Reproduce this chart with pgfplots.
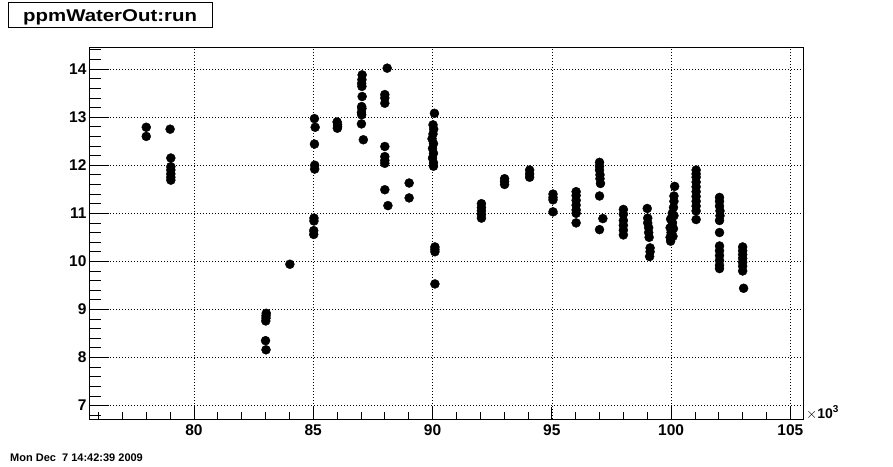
\documentclass[border=0pt]{standalone}
\usepackage{fontspec}
\setmainfont{Liberation Sans}
\usepackage{pgfplots}
\pgfplotsset{compat=1.18}
\begin{document}
\begin{tikzpicture}[x=1pt,y=1pt]
\path[use as bounding box, fill=white] (0,0) rectangle (893,466);
\begin{axis}[
  at={(89pt,47pt)}, anchor=south west,
  scale only axis, width=714pt, height=372pt,
  xmin=75.6, xmax=105.53, ymin=6.72, ymax=14.46,
  axis line style={black, line width=0.8pt},
  tick pos=left, tick align=inside,
  xtick={80,85,90,95,100,105},
  ytick={7,8,9,10,11,12,13,14},
  minor xtick={76,77,78,79,81,82,83,84,86,87,88,89,91,92,93,94,96,97,98,99,101,102,103,104,105},
  minor ytick={6.8,7.2,7.4,7.6,7.8,8.2,8.4,8.6,8.8,9.2,9.4,9.6,9.8,10.2,10.4,10.6,10.8,11.2,11.4,11.6,11.8,12.2,12.4,12.6,12.8,13.2,13.4,13.6,13.8,14.2,14.4},
  x tick style={black, line width=0.8pt, /pgfplots/major tick length=12pt, /pgfplots/minor tick length=7pt},
  y tick style={black, line width=0.8pt, /pgfplots/major tick length=20pt, /pgfplots/minor tick length=12pt},
  xmajorgrids, ymajorgrids,
  major grid style={black, line width=0.6pt, dash pattern=on 1pt off 2pt},
  /pgf/number format/assume math mode=true,
  ticklabel style={font=\bfseries\fontsize{15.5}{16}\selectfont},
  xticklabel style={yshift=-2pt},
  yticklabel style={xshift=1pt},
  clip=false,
]
\addplot[only marks, mark=*, mark size=4.5pt, black] coordinates {
(78,12.79) (78,12.60)
(79,12.75) (79.03,12.15) (79.03,11.97) (79.03,11.9) (79.03,11.82) (79.03,11.75) (79.03,11.69)
(83.03,8.92) (83.02,8.87) (83.02,8.82) (83.01,8.76) (83.0,8.35) (83.02,8.16)
(84.02,9.94)
(85.05,12.97) (85.08,12.79) (85.05,12.44) (85.06,12.0) (85.06,11.92) (85.03,10.9) (85.03,10.84) (85.02,10.64) (85.02,10.56)
(86.0,12.9) (86.02,12.85) (86.02,12.8) (86.01,12.77)
(87.05,13.88) (87.04,13.78) (87.03,13.7) (87.04,13.64) (87.05,13.43) (87.03,13.22) (87.04,13.18) (87.02,13.1) (87.03,13.05) (87.02,12.86) (87.1,12.53)
(88.1,14.02)
(88.0,13.47) (88.0,13.4) (88.0,13.29) (88.0,12.39) (88.0,12.18) (88.0,12.1) (88.0,12.04) (88.0,11.49) (88.13,11.16)
(89.02,11.63) (89.02,11.32)
(90.08,13.08) (90.02,12.84) (90.05,12.75) (90.02,12.65) (89.98,12.55) (90.04,12.45) (90.0,12.35) (90.04,12.25) (90.0,12.15) (90.04,12.05) (90.04,11.98)
(90.1,10.3) (90.1,10.25) (90.1,10.2) (90.1,9.53)
(92.05,11.2) (92.05,11.12) (92.05,11.05) (92.05,10.97) (92.05,10.9)
(93.02,11.72) (93.02,11.66) (93.02,11.6)
(94.07,11.9) (94.07,11.82) (94.07,11.75)
(95.05,11.4) (95.05,11.33) (95.05,11.28) (95.05,11.03)
(96.02,11.45) (96.02,11.37) (96.02,11.27) (96.02,11.17) (96.02,11.07) (96.02,11.0) (96.02,10.8)
(97.0,12.06) (97.0,11.98) (97.0,11.9) (97.02,11.8) (97.02,11.72) (97.04,11.62) (97.0,11.36) (97.0,10.66) (97.14,10.89)
(98.0,11.08) (98.0,10.98) (98.0,10.85) (98.0,10.75) (98.0,10.65) (98.0,10.55)
(99.0,11.1) (99.02,10.9) (99.02,10.8) (99.06,10.7) (99.06,10.6) (99.08,10.5) (99.12,10.28) (99.12,10.2) (99.1,10.1)
(100.15,11.56) (100.12,11.36) (100.12,11.25) (100.1,11.12) (100.05,11.0) (100.12,10.95) (99.98,10.88) (100.06,10.8) (99.96,10.7) (100.1,10.68) (100.0,10.6) (99.96,10.5) (100.08,10.52) (99.98,10.42)
(101.05,11.9) (101.05,11.82) (101.05,11.75) (101.05,11.65) (101.05,11.55) (101.05,11.45) (101.05,11.35) (101.05,11.25) (101.05,11.15) (101.05,11.05) (101.05,10.87)
(102.03,11.33) (102.03,11.25) (102.03,11.15) (102.05,11.05) (102.05,10.95) (102.03,10.85) (102.03,10.6) (102.03,10.32) (102.03,10.22) (102.03,10.12) (102.03,10.02) (102.03,9.92) (102.03,9.85)
(103.0,10.3) (103.0,10.22) (103.0,10.14) (103.0,10.06) (103.0,9.98) (103.0,9.9) (103.0,9.8) (103.04,9.44)
};
\end{axis}
\node[anchor=base west, inner sep=0pt, font=\fontsize{14}{14}\selectfont] at (806,48) {$\times$\textbf{10}\raisebox{6pt}{\fontsize{10}{10}\selectfont\textbf{3}}};
\draw[black, line width=1pt, fill=white] (8,438) rectangle (212,463);
\node[anchor=base west, inner sep=0pt, font=\bfseries\fontsize{17}{17}\selectfont] at (23,444.5) {\scalebox{1.2}[1]{ppmWaterOut:run}};
\node[anchor=base west, inner sep=0pt, font=\bfseries\fontsize{11}{11}\selectfont] at (10,5) {Mon Dec\ \ 7 14:42:39 2009};
\end{tikzpicture}
\end{document}
